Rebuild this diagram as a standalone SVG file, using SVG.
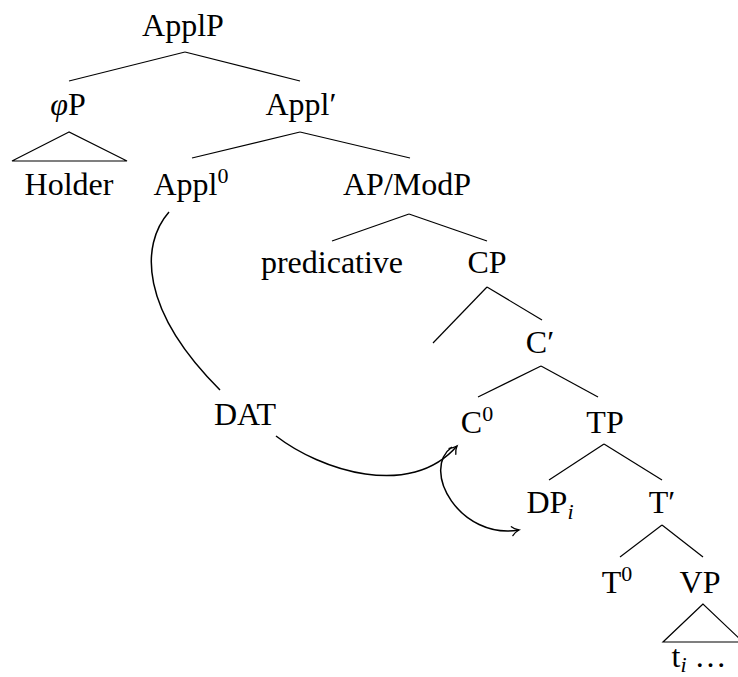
<svg xmlns="http://www.w3.org/2000/svg" width="738" height="677" viewBox="0 0 738 677">
  <style>
    .lbl { font-family: 'Liberation Serif', 'DejaVu Serif', serif; font-size: 32px; fill: #000; text-anchor: middle; }
    .sup { font-size: 22px; }
    .it { font-style: italic; }
    .edge { stroke: #000; stroke-width: 1.2; fill: none; }
    .tri { stroke: #000; stroke-width: 1.2; fill: none; stroke-linejoin: miter; }
    .move { stroke: #000; stroke-width: 1.5; fill: none; }
  </style>
  <defs>
    <marker id="to" markerUnits="userSpaceOnUse" orient="auto" refX="0" refY="0" markerWidth="12" markerHeight="12" viewBox="-9 -6 12 12" overflow="visible">
      <path d="M-7,-4.5 C-4.5,-1.8 -1.8,-0.6 0,0 C-1.8,0.6 -4.5,1.8 -7,4.5" fill="none" stroke="#000" stroke-width="1.3" stroke-linecap="round"/>
    </marker>
  </defs>

  <g id="connectors">
    <line class="edge" x1="185" y1="52" x2="69" y2="81"/>
    <line class="edge" x1="185" y1="52" x2="300" y2="81"/>
    <polygon class="tri" points="69,132 12,161 127,161"/>
    <line class="edge" x1="300" y1="132" x2="192" y2="158"/>
    <line class="edge" x1="300" y1="132" x2="410" y2="158"/>
    <line class="edge" x1="409" y1="214" x2="332" y2="241"/>
    <line class="edge" x1="409" y1="214" x2="487" y2="241"/>
    <line class="edge" x1="487" y1="287" x2="433" y2="343"/>
    <line class="edge" x1="487" y1="287" x2="542" y2="320"/>
    <line class="edge" x1="541" y1="366" x2="478" y2="397"/>
    <line class="edge" x1="541" y1="366" x2="598" y2="397"/>
    <line class="edge" x1="604" y1="444" x2="549" y2="480"/>
    <line class="edge" x1="604" y1="444" x2="662" y2="480"/>
    <line class="edge" x1="662" y1="525" x2="620" y2="557"/>
    <line class="edge" x1="662" y1="525" x2="703" y2="557"/>
    <polygon class="tri" points="703,604 663,642 743,642"/>
    <path class="move" d="M169,212 C140,245 140,310 220,390"/>
    <path class="move" d="M276,436 C320,470 410,500 457,446" marker-end="url(#to)"/>
    <path class="move" d="M452,447 C420,470 460,540 519,530" marker-end="url(#to)"/>
  </g>

  <g id="ApplP"><text class="lbl" x="183" y="36">ApplP</text></g>
  <g id="phiP"><text class="lbl" x="68" y="115"><tspan class="it">φ</tspan>P</text></g>
  <g id="ApplBar"><text class="lbl" x="301" y="115">Appl′</text></g>
  <g id="Holder"><text class="lbl" x="69" y="195">Holder</text></g>
  <g id="Appl0"><text class="lbl" x="191" y="195">Appl<tspan class="sup" dy="-12">0</tspan></text></g>
  <g id="APModP"><text class="lbl" x="407" y="195">AP/ModP</text></g>
  <g id="predicative"><text class="lbl" x="332" y="273">predicative</text></g>
  <g id="CP"><text class="lbl" x="487" y="273">CP</text></g>
  <g id="CBar"><text class="lbl" x="540" y="353">C′</text></g>
  <g id="DAT"><text class="lbl" x="245" y="425">DAT</text></g>
  <g id="C0"><text class="lbl" x="477" y="433">C<tspan class="sup" dy="-12">0</tspan></text></g>
  <g id="TP"><text class="lbl" x="605" y="433">TP</text></g>
  <g id="DPi"><text class="lbl" x="550" y="513">DP<tspan class="sup it" dy="6">i</tspan></text></g>
  <g id="TBar"><text class="lbl" x="662" y="513">T′</text></g>
  <g id="T0"><text class="lbl" x="617" y="593">T<tspan class="sup" dy="-12">0</tspan></text></g>
  <g id="VP"><text class="lbl" x="700" y="593">VP</text></g>
  <g id="ti"><text class="lbl" x="699" y="667">t<tspan class="sup it" dy="5">i</tspan><tspan dy="-5"> …</tspan></text></g>
</svg>
